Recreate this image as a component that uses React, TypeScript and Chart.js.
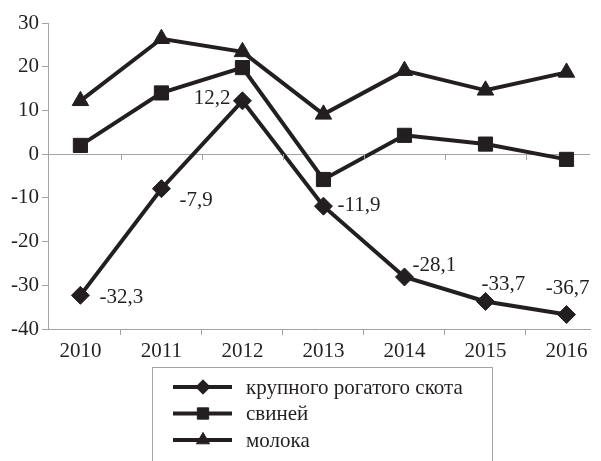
import React, { useEffect, useRef } from "react";
import { Chart, registerables } from "chart.js";
import { drawPoint } from "chart.js/helpers";

Chart.register(...registerables);

const categories = ["2010", "2011", "2012", "2013", "2014", "2015", "2016"];
const cattle = [-32.3, -7.9, 12.2, -11.9, -28.1, -33.7, -36.7];
const pigs = [2.0, 14.0, 19.8, -5.8, 4.3, 2.3, -1.2];
const milk = [12.2, 26.4, 23.4, 9.1, 19.1, 14.6, 18.7];
const seriesNames = ["крупного рогатого скота", "свиней", "молока"];
const yTicks = [-40, -30, -20, -10, 0, 10, 20, 30];

const INK = "#231f20";
const AXIS = "#a3a3a3";
const FONT = "'Liberation Serif', 'Times New Roman', serif";

// label placement relative to each cattle point: [dx, dy, align]
const labelOffsets: [number, number, CanvasTextAlign][] = [
  [19, 2, "left"],
  [18, 12, "left"],
  [-12, -2, "right"],
  [14, -1, "left"],
  [8, -11, "left"],
  [18, -17, "center"],
  [1, -26, "center"],
];

const fmt = (v: number) => v.toFixed(1).replace(".", ",");

const valueLabels = {
  id: "valueLabels",
  afterDatasetsDraw(chart: any) {
    const meta = chart.getDatasetMeta(0);
    const ctx = chart.ctx;
    ctx.save();
    ctx.font = `21px ${FONT}`;
    ctx.fillStyle = INK;
    ctx.textBaseline = "middle";
    meta.data.forEach((pt: any, i: number) => {
      const [dx, dy, align] = labelOffsets[i];
      ctx.textAlign = align;
      ctx.fillText(fmt(cattle[i]), pt.x + dx, pt.y + dy);
    });
    ctx.restore();
  },
};

const zeroTicks = {
  id: "zeroTicks",
  afterDraw(chart: any) {
    const xs = chart.scales.x;
    const ys = chart.scales.y;
    const y0 = ys.getPixelForValue(0);
    const ctx = chart.ctx;
    ctx.save();
    ctx.strokeStyle = AXIS;
    ctx.lineWidth = 1;
    ctx.beginPath();
    xs.ticks.forEach((t: any) => {
      if (!Number.isInteger(t.value)) {
        const px = Math.round(xs.getPixelForValue(t.value)) + 0.5;
        ctx.moveTo(px, y0);
        ctx.lineTo(px, y0 + 6);
      }
    });
    ctx.stroke();
    ctx.restore();
  },
};

const boxLegend = {
  id: "boxLegend",
  afterDraw(chart: any) {
    const ctx = chart.ctx;
    ctx.save();
    ctx.strokeStyle = AXIS;
    ctx.lineWidth = 1;
    ctx.strokeRect(152.5, 367.5, 340, 120);
    ctx.font = `21px ${FONT}`;
    ctx.textBaseline = "middle";
    ctx.textAlign = "left";
    chart.data.datasets.forEach((ds: any, i: number) => {
      const y = 387 + i * 26.5;
      ctx.strokeStyle = ds.borderColor;
      ctx.lineWidth = 4;
      ctx.beginPath();
      ctx.moveTo(173, y);
      ctx.lineTo(232, y);
      ctx.stroke();
      ctx.fillStyle = ds.pointBackgroundColor;
      ctx.strokeStyle = ds.pointBorderColor;
      ctx.lineWidth = 1;
      drawPoint(ctx, { pointStyle: ds.pointStyle, radius: ds.pointRadius * 0.8, borderWidth: 1, rotation: 0 }, 203, y);
      ctx.fillStyle = INK;
      ctx.fillText(ds.label, 246, y + 1);
    });
    ctx.restore();
  },
};

const xTickValues: number[] = [];
categories.forEach((_, i) => {
  xTickValues.push(i);
  if (i < categories.length - 1) xTickValues.push(i + 0.5);
});

export default function App() {
  const ref = useRef<HTMLCanvasElement>(null);
  useEffect(() => {
    document.body.style.margin = "0";
    const mk = (label: string, vals: number[], style: string, r: number) => ({
      label,
      data: vals.map((v, i) => ({ x: i, y: v })),
      borderColor: INK,
      borderWidth: 4,
      pointStyle: style,
      pointRadius: r,
      pointBackgroundColor: INK,
      pointBorderColor: INK,
      pointBorderWidth: 1,
      tension: 0,
    });
    const chart = new Chart(ref.current!, {
      type: "line",
      data: {
        datasets: [
          mk(seriesNames[0], cattle, "rectRot", 9),
          mk(seriesNames[1], pigs, "rect", 10),
          mk(seriesNames[2], milk, "triangle", 9.5),
        ],
      },
      options: {
        responsive: false,
        animation: false,
        layout: { padding: { top: 23, right: 1, left: 0, bottom: 96 } },
        plugins: { legend: { display: false }, tooltip: { enabled: false } },
        scales: {
          x: {
            type: "linear",
            min: -0.4,
            max: 6.29,
            afterBuildTicks: (s: any) => {
              s.ticks = xTickValues.map((v) => ({ value: v }));
            },
            afterFit: (s: any) => {
              s.height = 36;
            },
            ticks: {
              autoSkip: false,
              maxRotation: 0,
              padding: 4,
              color: INK,
              font: { family: FONT, size: 21 },
              callback: (v: any) => (Number.isInteger(v) ? categories[v] : ""),
            },
            grid: {
              drawOnChartArea: false,
              tickLength: 6,
              tickColor: (c: any) => (c.tick && Number.isInteger(c.tick.value) ? "rgba(0,0,0,0)" : AXIS),
            },
            border: { color: AXIS, width: 1 },
          },
          y: {
            min: -40,
            max: 30,
            afterBuildTicks: (s: any) => {
              s.ticks = yTicks.map((v) => ({ value: v }));
            },
            afterFit: (s: any) => {
              s.width = 48;
            },
            ticks: {
              padding: 3,
              color: INK,
              font: { family: FONT, size: 21 },
            },
            grid: {
              tickLength: 6,
              color: (c: any) => (c.tick && c.tick.value === 0 ? AXIS : "rgba(0,0,0,0)"),
              tickColor: AXIS,
            },
            border: { color: AXIS, width: 1 },
          },
        },
      },
      plugins: [valueLabels, zeroTicks, boxLegend],
    } as any);
    return () => chart.destroy();
  }, []);
  return <canvas ref={ref} width={601} height={461} />;
}
